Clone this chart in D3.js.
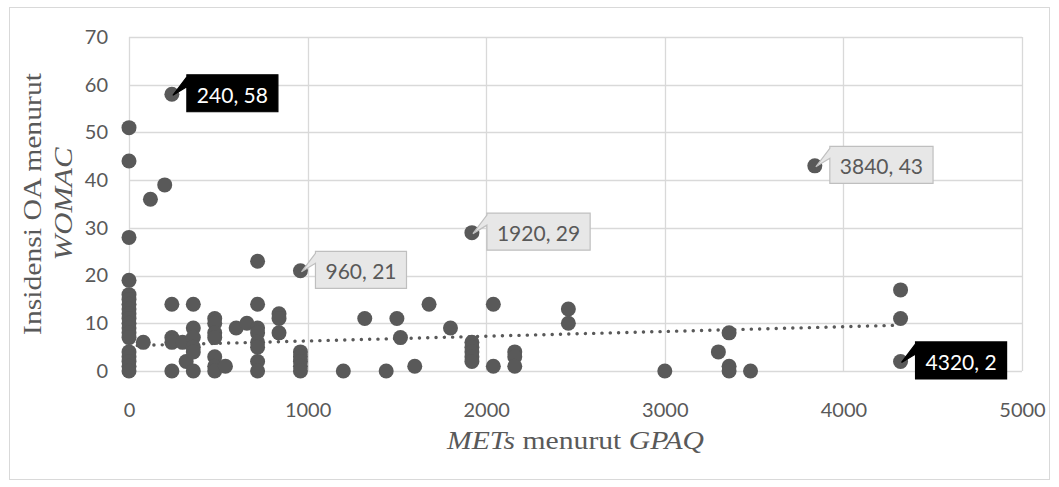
<!DOCTYPE html>
<html><head><meta charset="utf-8">
<script src="https://cdn.jsdelivr.net/npm/d3@7"></script>
<style>
html,body{margin:0;padding:0;background:#fff;}
svg{display:block;}
</style>
</head><body>
<svg id="chart" width="1059" height="487"></svg>
<script>
// ---- data ----
const metsValues = [
  0,0,0,0,0,0,0,0,0,0,0,0,0,0,0,0,0,0,0,
  80,120,200,
  240,240,240,240,240,
  300,320,
  360,360,360,360,360,360,
  480,480,480,480,480,480,480,
  540,600,660,
  720,720,720,720,720,720,720,720,
  840,840,840,
  960,960,960,960,960,960,
  1200,1320,1440,1500,1520,1600,1680,1800,
  1920,1920,1920,1920,1920,1920,
  2040,2040,
  2160,2160,2160,
  2460,2460,
  3000,3300,3360,3360,3360,3480,3840,
  4320,4320,4320
];
const womacValues = [
  51,44,28,19,16,15,14,13,12,11,10,9,8,7,4,3,2,1,0,
  6,36,39,
  58,14,7,6,0,
  6,2,
  14,9,7,5,4,0,
  11,10,8,7,3,1,0,
  1,9,10,
  23,14,9,8,6,5,2,0,
  12,11,8,
  21,4,3,2,1,0,
  0,11,0,11,7,1,14,9,
  29,6,5,4,3,2,
  14,1,
  4,3,1,
  13,10,
  0,4,8,1,0,0,43,
  17,11,2
];
const trendX = [0, 4320];
const trendY = [5.3, 9.6];
const labelX = [240, 960, 1920, 3840, 4320];
const labelY = [58, 21, 29, 43, 2];
const highlightedLabels = ["240, 58", "4320, 2"];
const xTickValues = [0, 1000, 2000, 3000, 4000, 5000];
const yTickValues = [0, 10, 20, 30, 40, 50, 60, 70];

// ---- layout ----
const svg = d3.select("#chart");
const L = 129, R = 1022, T = 37, B = 371;
const x = d3.scaleLinear().domain([0, 5000]).range([L, R]);
const y = d3.scaleLinear().domain([0, 70]).range([B, T]);
const grey = "#595959";
const gridC = "#d9d9d9";

// chart border
svg.append("rect").attr("x", 9.5).attr("y", 7.5).attr("width", 1040).attr("height", 472)
  .attr("fill", "none").attr("stroke", gridC).attr("stroke-width", 1);

// gridlines
svg.append("g").selectAll("line").data(yTickValues).join("line")
  .attr("x1", L).attr("x2", R).attr("y1", d => Math.round(y(d)) + 0.5).attr("y2", d => Math.round(y(d)) + 0.5)
  .attr("stroke", gridC).attr("stroke-width", 1.3);
svg.append("g").selectAll("line").data(xTickValues).join("line")
  .attr("y1", T).attr("y2", B).attr("x1", d => Math.round(x(d)) + 0.5).attr("x2", d => Math.round(x(d)) + 0.5)
  .attr("stroke", gridC).attr("stroke-width", 1.3);

// axes (labels only)
const xAxis = svg.append("g").attr("transform", `translate(0,${B})`)
  .call(d3.axisBottom(x).tickValues(xTickValues).tickSize(0).tickPadding(32).tickFormat(d3.format("d")));
const yAxis = svg.append("g").attr("transform", `translate(${L},0)`)
  .call(d3.axisLeft(y).tickValues(yTickValues).tickSize(0).tickPadding(21).tickFormat(d3.format("d")));
[xAxis, yAxis].forEach(g => {
  g.select(".domain").remove();
  g.selectAll("text").attr("fill", grey).style("font-family", "Lato, 'Open Sans', sans-serif").style("font-size", "20px");
});

// trendline
const trendPts = trendX.map((v, i) => [v, trendY[i]]);
svg.append("path").datum(trendPts)
  .attr("d", d3.line().x(d => x(d[0])).y(d => y(d[1])))
  .attr("fill", "none").attr("stroke", grey).attr("stroke-width", 3.4)
  .attr("stroke-dasharray", "0.1,8.2").attr("stroke-linecap", "round");

// points
const pts = metsValues.map((v, i) => [v, womacValues[i]]);
svg.append("g").selectAll("circle").data(pts).join("circle")
  .attr("cx", d => x(d[0])).attr("cy", d => y(d[1])).attr("r", 7.5)
  .attr("fill", grey);

// data labels with callouts
const labFont = "Lato, 'Open Sans', sans-serif";
labelX.forEach((lx, i) => {
  const ly = labelY[i];
  const txt = `${lx}, ${ly}`;
  const dark = highlightedLabels.includes(txt);
  const cx = x(lx), cy = y(ly);
  const g = svg.append("g");
  const path = g.append("path");
  const t = g.append("text").text(txt)
    .style("font-family", labFont).style("font-size", "21px")
    .attr("fill", dark ? "#ffffff" : grey)
    .attr("dominant-baseline", "central");
  const tw = t.node().getComputedTextLength();
  const bx = cx + 15, bw = tw + 20, bh = 37;
  const by = cy - bh / 2 - 1;
  t.attr("x", bx + 10).attr("y", by + bh / 2 + 1);
  const d = `M${bx},${by} H${bx + bw} V${by + bh} H${bx} V${by + 12} L${cx + 1},${cy + 1} L${bx},${by + 2} Z`;
  path.attr("d", d)
    .attr("fill", dark ? "#000000" : "#e7e7e7")
    .attr("stroke", dark ? "#000000" : "#bfbfbf")
    .attr("stroke-width", 1.2);
});

// axis titles
const titleFont = "'Liberation Serif', 'DejaVu Serif', serif";
const xt = svg.append("text").attr("x", (L + R) / 2).attr("y", 449)
  .attr("text-anchor", "middle").attr("fill", grey)
  .attr("textLength", 257).attr("lengthAdjust", "spacingAndGlyphs")
  .style("font-family", titleFont).style("font-size", "25px");
xt.append("tspan").attr("font-style", "italic").text("METs");
xt.append("tspan").text(" menurut ");
xt.append("tspan").attr("font-style", "italic").text("GPAQ");

const yt = svg.append("g").attr("transform", `translate(0,${(T + B) / 2}) rotate(-90)`);
yt.append("text").attr("x", 0).attr("y", 41)
  .attr("text-anchor", "middle").attr("fill", grey)
  .attr("textLength", 262).attr("lengthAdjust", "spacingAndGlyphs")
  .style("font-family", titleFont).style("font-size", "25px")
  .text("Insidensi OA menurut");
yt.append("text").attr("x", 0).attr("y", 72)
  .attr("text-anchor", "middle").attr("fill", grey).attr("font-style", "italic")
  .attr("textLength", 113).attr("lengthAdjust", "spacingAndGlyphs")
  .style("font-family", titleFont).style("font-size", "25px")
  .text("WOMAC");
</script>
</body></html>
